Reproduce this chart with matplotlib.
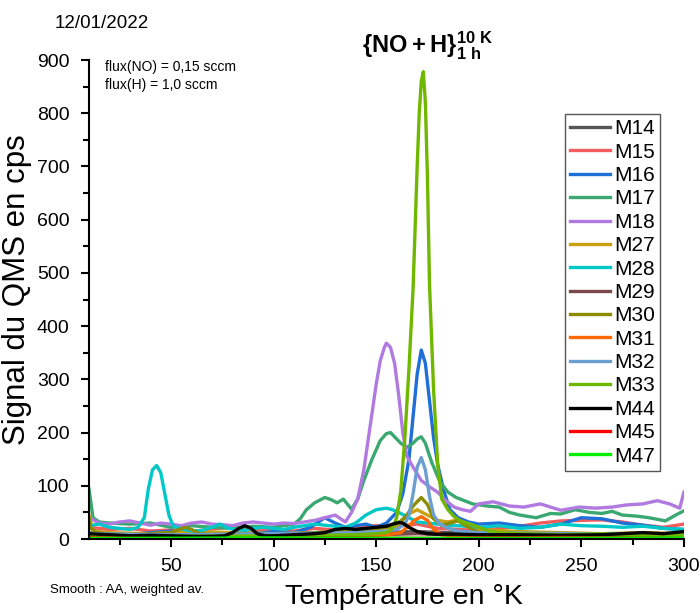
import numpy as np
import matplotlib.pyplot as plt
from matplotlib.ticker import MultipleLocator

plt.rcParams['font.family'] = ['Liberation Sans', 'DejaVu Sans']
plt.rcParams['mathtext.fontset'] = 'custom'
plt.rcParams['mathtext.rm'] = 'Liberation Sans'
plt.rcParams['mathtext.bf'] = 'Liberation Sans:bold'

# TPD mass spectra, one (temperature, counts) pair per mass
T14 = [10, 40, 80, 120, 150, 170, 200, 250, 300]
M14 = [10, 8, 7, 9, 12, 14, 10, 9, 10]

T15 = [10, 20, 30, 40, 50, 60, 70, 80, 90, 100, 110, 120, 130, 140, 150, 160, 170,
       180, 190, 200, 210, 220, 230, 240, 250, 260, 270, 280, 290, 300]
M15 = [22, 18, 20, 15, 17, 14, 19, 22, 16, 18, 15, 20, 17, 22, 25, 24, 28,
       20, 18, 16, 20, 24, 30, 34, 35, 36, 32, 26, 22, 28]

T16 = [10, 20, 30, 40, 50, 60, 70, 80, 90, 100, 110, 118, 125, 130, 135, 140, 145,
       150, 155, 160, 163, 166, 168, 170, 172, 174, 176, 178, 180, 183, 186, 190,
       195, 200, 210, 220, 230, 240, 250, 260, 270, 280, 290, 300]
M16 = [12, 10, 8, 12, 15, 10, 8, 12, 10, 14, 12, 22, 40, 30, 22, 25, 28,
       22, 30, 50, 85, 150, 230, 310, 355, 330, 260, 190, 140, 90, 55, 40,
       32, 28, 30, 25, 22, 28, 40, 38, 30, 26, 20, 18]

T17 = [10, 12, 15, 20, 30, 40, 50, 60, 70, 80, 90, 100, 110, 113, 116, 120, 125,
       128, 131, 134, 138, 141, 144, 148, 152, 155, 157, 159, 162, 165, 168, 170,
       172, 174, 177, 181, 185, 189, 193, 197, 204, 210, 215, 220, 228, 235, 240,
       247, 254, 260, 265, 270, 277, 283, 291, 296, 300]
M17 = [95, 40, 32, 30, 28, 30, 22, 25, 22, 20, 24, 22, 28, 38, 55, 68, 78,
       74, 68, 75, 56, 75, 110, 150, 185, 198, 200, 192, 180, 172, 180, 188,
       192, 180, 145, 108, 88, 78, 72, 66, 62, 60, 50, 45, 40, 48, 47,
       55, 50, 48, 52, 45, 43, 40, 34, 45, 53]

T18 = [10, 15, 20, 25, 30, 35, 40, 45, 50, 55, 60, 65, 70, 75, 80, 85, 90, 95, 100,
       105, 110, 115, 120, 125, 130, 135, 138, 141, 144, 147, 150, 152, 154, 155,
       157, 159, 161, 163, 165, 168, 172, 176, 180, 184, 188, 192, 196, 200, 207,
       215, 222, 230, 240, 249, 257, 265, 272, 280, 287, 293, 298, 300]
M18 = [40, 30, 28, 32, 34, 30, 26, 30, 28, 25, 30, 32, 28, 27, 25, 30, 32, 30, 28,
       30, 29, 32, 35, 40, 45, 32, 50, 75, 130, 210, 290, 335, 360, 368,
       360, 330, 270, 200, 155, 135, 110, 98, 88, 72, 60, 55, 52, 66, 70,
       62, 60, 66, 54, 60, 58, 60, 64, 66, 72, 66, 58, 88]

T27 = [10, 12, 20, 40, 60, 80, 100, 120, 140, 150, 160, 165, 170, 175, 180, 185,
       190, 195, 200, 220, 240, 260, 280, 300]
M27 = [45, 15, 12, 10, 14, 12, 10, 12, 15, 18, 25, 45, 55, 45, 35, 32, 36, 28,
       18, 14, 12, 10, 12, 10]

T28 = [10, 15, 20, 25, 30, 34, 37, 39, 41, 43, 45, 47, 49, 51, 53, 56, 60, 65, 70,
       74, 78, 82, 86, 90, 95, 100, 105, 110, 115, 120, 125, 130, 135, 140, 145,
       150, 155, 158, 162, 166, 170, 175, 180, 185, 190, 200, 210, 220, 230, 240,
       250, 260, 270, 280, 290, 300]
M28 = [25, 28, 22, 20, 18, 22, 40, 95, 130, 138, 125, 85, 45, 25, 22, 18, 15, 16,
       22, 28, 20, 18, 16, 20, 22, 20, 18, 22, 25, 28, 26, 24, 22, 30, 45,
       55, 58, 55, 48, 40, 32, 30, 28, 26, 25, 22, 25, 20, 22, 28,
       25, 24, 22, 24, 20, 18]

T29 = [10, 50, 100, 150, 170, 200, 250, 300]
M29 = [8, 6, 5, 8, 10, 6, 5, 6]

T30 = [10, 11, 14, 20, 30, 40, 50, 54, 57, 60, 64, 70, 80, 90, 100, 110, 120, 130,
       140, 150, 155, 160, 164, 168, 172, 175, 178, 182, 186, 190, 195, 200, 220,
       240, 260, 280, 300]
M30 = [40, 20, 12, 10, 8, 10, 12, 18, 22, 18, 10, 8, 8, 10, 8, 10, 12, 14,
       18, 20, 22, 28, 40, 62, 78, 65, 38, 25, 30, 34, 22, 12, 10,
       8, 10, 8, 10]

T31 = [10, 50, 100, 140, 155, 162, 166, 169, 172, 175, 178, 182, 190, 200, 250, 300]
M31 = [5, 4, 5, 6, 8, 12, 25, 36, 42, 35, 18, 8, 5, 4, 3, 4]

T32 = [10, 50, 100, 140, 155, 160, 164, 166, 168, 170, 172, 174, 176, 178, 181,
       185, 190, 200, 250, 300]
M32 = [10, 8, 10, 12, 15, 18, 28, 45, 85, 135, 153, 130, 80, 45, 28,
       20, 15, 12, 10, 10]

T33 = [10, 50, 100, 140, 150, 155, 158, 160, 162, 164, 166, 168, 170, 171, 172,
       173, 174, 175, 176, 178, 180, 182, 185, 188, 192, 196, 200, 205, 210, 220,
       240, 260, 280, 300]
M33 = [5, 5, 6, 8, 10, 12, 20, 40, 90, 190, 320, 470, 700, 800, 860,
       878, 820, 680, 480, 280, 140, 75, 55, 42, 32, 28, 22, 15, 12, 10,
       8, 10, 8, 8]

T44 = [10, 20, 30, 40, 50, 60, 70, 76, 80, 83, 86, 89, 92, 96, 100, 110, 120, 125,
       130, 135, 140, 145, 150, 155, 158, 161, 163, 166, 170, 175, 180, 190, 200,
       220, 240, 260, 270, 280, 290, 300]
M44 = [10, 8, 6, 7, 6, 5, 5, 6, 12, 20, 25, 20, 10, 6, 6, 8, 10, 12,
       18, 20, 18, 20, 22, 24, 28, 31, 30, 22, 14, 10, 9, 9, 8,
       8, 7, 8, 10, 12, 10, 14]

T45 = [10, 60, 120, 180, 240, 300]
M45 = [2, 0, 2, 1, 3, 1]

T47 = [10, 100, 200, 300]
M47 = [1, 2, 1, 2]

series = [
    ('M14', T14, M14, '#555555'),
    ('M15', T15, M15, '#f25c5c'),
    ('M16', T16, M16, '#1f6fd8'),
    ('M17', T17, M17, '#3aa870'),
    ('M18', T18, M18, '#b07ae0'),
    ('M27', T27, M27, '#c8a010'),
    ('M28', T28, M28, '#00c8c8'),
    ('M29', T29, M29, '#7a4a4a'),
    ('M30', T30, M30, '#8c8c00'),
    ('M31', T31, M31, '#ff6a00'),
    ('M32', T32, M32, '#6a9fd0'),
    ('M33', T33, M33, '#70b800'),
    ('M44', T44, M44, '#000000'),
    ('M45', T45, M45, '#ff0000'),
    ('M47', T47, M47, '#00ee00'),
]

fig = plt.figure(figsize=(7, 6.13), dpi=100)
ax = fig.add_axes([0.127, 0.1207, 0.85, 0.7814])

for name, t, v, c in series:
    ax.plot(t, v, color=c, lw=2.4, label=name)

ax.set_xlim(10, 300)
ax.set_ylim(0, 900)
ax.xaxis.set_major_locator(MultipleLocator(50))
ax.xaxis.set_minor_locator(MultipleLocator(25))
ax.yaxis.set_major_locator(MultipleLocator(100))
ax.yaxis.set_minor_locator(MultipleLocator(50))
ax.tick_params(which='major', length=6, width=1.5, labelsize=14, pad=8)
ax.tick_params(which='minor', length=4, width=1.5)
ax.spines['top'].set_visible(False)
ax.spines['right'].set_visible(False)
ax.spines['left'].set_linewidth(1.5)
ax.spines['bottom'].set_linewidth(1.5)

ax.set_xlabel('Température en °K', fontsize=20.5)
ax.set_ylabel('Signal du QMS en cps', fontsize=22.5)
ax.xaxis.set_label_coords(0.53, -0.094)
ax.yaxis.set_label_coords(-0.096, 0.52)

leg = ax.legend(loc='upper right', bbox_to_anchor=(0.96, 0.887), fontsize=15,
                handlelength=1.9, handletextpad=0.2, labelspacing=0.21,
                borderpad=0.25, borderaxespad=0, fancybox=False, framealpha=1)
leg.get_frame().set_edgecolor('#555555')
leg.get_frame().set_linewidth(1.0)

fig.text(0.078, 0.962, '12/01/2022', fontsize=13.5, va='center')
fig.text(0.15, 0.89, 'flux(NO) = 0,15 sccm', fontsize=10, va='center')
fig.text(0.15, 0.862, 'flux(H) = 1,0 sccm', fontsize=10, va='center')
fig.text(0.072, 0.037, 'Smooth : AA, weighted av.', fontsize=9.5, va='center')
fig.text(0.517, 0.925, r'$\mathbf{\{NO+H\}}^{\mathbf{10\ K}}_{\mathbf{1\ h}}$',
         fontsize=17, va='center')

fig.savefig('out.png', dpi=100)
